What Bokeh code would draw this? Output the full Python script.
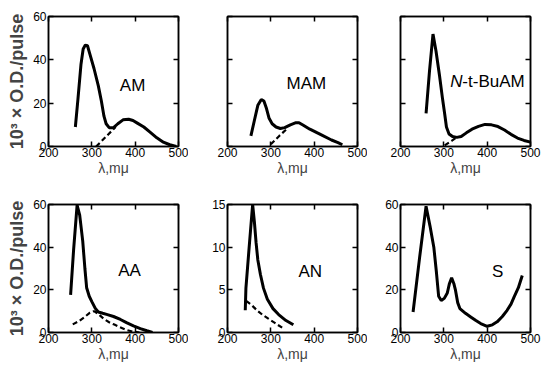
from bokeh.plotting import figure
from bokeh.models import LinearAxis, FixedTicker, Label, Range1d
from bokeh.layouts import row, column
from bokeh.embed import file_html
from bokeh.resources import INLINE

# ---------------- data ----------------
x_ticks = [200, 300, 400, 500]
y_ticks_60 = [0, 20, 40, 60]
y_ticks_15 = [0, 5, 10, 15]
y_label = "10³ × O.D./pulse"
x_label = "λ,mμ"

am_x = [262, 268, 275, 280, 285, 290, 295, 305, 315, 322, 328, 333, 340, 350, 360, 372, 385, 395, 405, 420, 435, 450, 465, 480, 495]
am_y = [9, 22, 38, 45, 46.8, 46.5, 43, 36, 28, 21, 14, 10.5, 8.7, 8.7, 10.5, 12.3, 12.6, 12, 10.8, 9, 6.5, 4, 2, 0.8, 0]
am_dx = [310, 335, 355]
am_dy = [0, 5, 9]

mam_x = [254, 262, 270, 278, 284, 290, 296, 303, 312, 322, 332, 345, 358, 365, 375, 390, 405, 420, 440, 455, 465]
mam_y = [4.9, 12, 19, 21.7, 21, 17.5, 13, 10.5, 9, 8.3, 8.7, 10, 11, 11, 9.8, 8, 6.5, 5, 3, 1.8, 0.8]
mam_dx = [300, 320, 338]
mam_dy = [1, 5, 8.3]

tbu_x = [259, 267, 275, 282, 290, 297, 302, 306, 312, 320, 330, 340, 352, 365, 380, 395, 410, 425, 440, 455, 470, 485, 500]
tbu_y = [15.3, 35, 51.9, 44, 32.8, 22, 15, 9, 5.8, 4.6, 4.2, 4.6, 6.3, 8, 9.3, 10.2, 10, 9.2, 7.6, 5.6, 3.9, 2.8, 2]
tbu_dx = [302, 318, 332]
tbu_dy = [0.5, 2.6, 4.6]

aa_x = [251, 258, 266, 272, 279, 284, 288, 294, 300, 308, 315, 325, 336, 350, 366, 380, 396, 412, 427, 440]
aa_y = [17.6, 39, 59.7, 55, 42.8, 30, 21, 17, 14.5, 11.3, 9.6, 9, 8.4, 7.5, 6.1, 4.6, 3.1, 1.8, 0.8, 0]
aa_dx = [256, 270, 283, 295, 305, 315, 328, 340, 352, 365, 380, 395, 410]
aa_dy = [3.8, 5.3, 7.2, 9.2, 10, 8.7, 6.3, 4.8, 3.7, 2.5, 1.2, 0.4, 0]

an_x = [241, 242.5, 250, 258, 262, 266, 270, 276, 283, 292, 305, 318, 335, 352]
an_y = [2.6, 5.2, 10, 15, 13, 10.5, 8.5, 6.8, 5.2, 3.9, 2.8, 2.1, 1.4, 0.9]
an_dx = [243, 256, 268, 280, 295, 310, 328]
an_dy = [3.7, 3.2, 2.6, 2.1, 1.6, 1.1, 0.5]

s_x = [229, 244, 259, 268, 277, 283, 288, 294, 301, 308, 313, 318, 323, 327, 332, 337, 350, 362, 374, 385, 400, 412, 423, 435, 446, 455, 462, 472, 481]
s_y = [9.6, 35, 59.2, 50, 39.8, 28, 17, 15, 16, 18.5, 23, 25.6, 23, 19.7, 14, 11.2, 9, 7.3, 5.6, 4.2, 2.9, 3.6, 5, 7.5, 10.4, 13.3, 16.6, 21, 26.7]

FONT = "Liberation Sans"


def hide_labels(ax):
    ax.major_label_text_font_size = "1px"
    ax.major_label_text_color = None
    ax.major_label_standoff = 0


def panel(width, height, borders, ymax, yticks, show_ylab, ylab, sx, sy, dx=None, dy=None):
    left, right, top, bottom = borders
    p = figure(width=width, height=height, x_range=Range1d(200, 500), y_range=Range1d(0, ymax),
               output_backend="svg", toolbar_location=None,
               min_border_left=left, min_border_right=right, min_border_top=top, min_border_bottom=bottom)
    p.xgrid.visible = False
    p.ygrid.visible = False
    p.outline_line_color = "black"
    p.outline_line_width = 1.5
    p.background_fill_color = "white"
    p.border_fill_color = "white"

    for ax in p.xaxis:
        ax.ticker = FixedTicker(ticks=x_ticks)
        ax.axis_label = x_label
        ax.axis_label_text_font = FONT
        ax.axis_label_text_font_size = "14px"
        ax.axis_label_text_font_style = "normal"
        ax.axis_label_standoff = 0
        ax.major_label_text_font = FONT
        ax.major_label_text_font_size = "12px"
        ax.major_label_text_color = "black"
        ax.major_label_standoff = 1
    for ax in p.yaxis:
        ax.ticker = FixedTicker(ticks=yticks)
        if show_ylab:
            ax.major_label_text_font = FONT
            ax.major_label_text_font_size = "12px"
            ax.major_label_text_color = "black"
            ax.major_label_standoff = 2
        else:
            hide_labels(ax)
        if ylab:
            ax.axis_label = y_label
            ax.axis_label_text_font = FONT
            ax.axis_label_text_font_size = "18px"
            ax.axis_label_text_font_style = "bold"
            ax.axis_label_standoff = 3
    top_ax = LinearAxis(ticker=FixedTicker(ticks=x_ticks))
    hide_labels(top_ax)
    p.add_layout(top_ax, "above")
    right_ax = LinearAxis(ticker=FixedTicker(ticks=yticks))
    hide_labels(right_ax)
    p.add_layout(right_ax, "right")
    for ax in p.axis:
        ax.major_tick_in = 5
        ax.major_tick_out = 0
        ax.minor_tick_in = 0
        ax.minor_tick_out = 0
        ax.axis_line_width = 1.5
        ax.major_tick_line_width = 1.5

    p.line(sx, sy, line_color="black", line_width=3)
    if dx is not None:
        p.line(dx, dy, line_color="black", line_width=2.2, line_dash="5 3")
    return p


def tag(p, text, x, y, style="normal", align="center", xoff=0):
    p.add_layout(Label(x=x, y=y, text=text, text_font=FONT, text_font_size="17px", text_font_style=style,
                       text_align=align, text_baseline="middle", x_offset=xoff, text_color="black"))


W1, W2, W3 = 188, 179, 175
H1 = 196
H2 = 168
b1 = (48, 10, 16, 50)
b2 = (39, 10, 16, 50)
b3 = (33, 12, 16, 50)
c1 = (48, 10, 8, 30)
c2 = (39, 10, 8, 30)
c3 = (33, 12, 8, 30)

p1 = panel(W1, H1, b1, 60, y_ticks_60, True, True, am_x, am_y, am_dx, am_dy)
tag(p1, "AM", 394, 28)
p2 = panel(W2, H1, b2, 60, y_ticks_60, False, False, mam_x, mam_y, mam_dx, mam_dy)
tag(p2, "MAM", 382, 29)
p3 = panel(W3, H1, b3, 60, y_ticks_60, False, False, tbu_x, tbu_y, tbu_dx, tbu_dy)
tag(p3, "N", 315, 30, style="italic", align="left")
tag(p3, "-t-BuAM", 315, 30, align="left", xoff=12)

p4 = panel(W1, H2, c1, 60, y_ticks_60, True, True, aa_x, aa_y, aa_dx, aa_dy)
tag(p4, "AA", 387, 29)
p5 = panel(W2, H2, c2, 15, y_ticks_15, True, False, an_x, an_y, an_dx, an_dy)
tag(p5, "AN", 391, 7.1)
p6 = panel(W3, H2, c3, 60, y_ticks_60, True, False, s_x, s_y)
tag(p6, "S", 424, 28.4)

layout = column(row(p1, p2, p3, spacing=0), row(p4, p5, p6, spacing=0), spacing=0)

open("out.html", "w").write(file_html(layout, INLINE))
